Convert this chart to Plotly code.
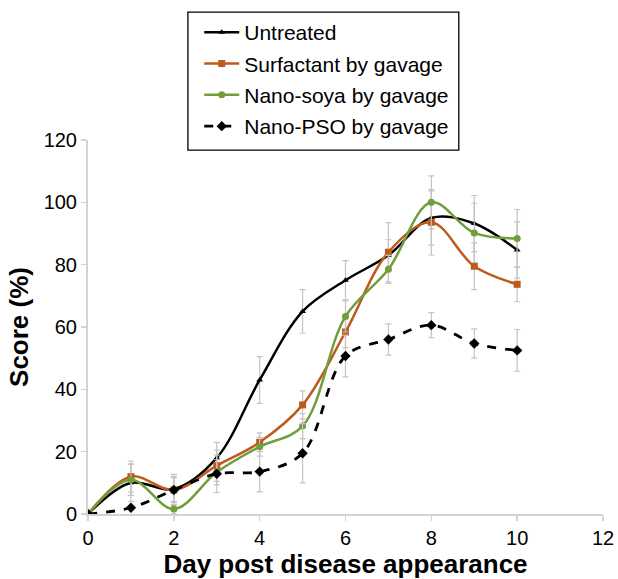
import plotly.graph_objects as go

days = [0, 1, 2, 3, 4, 5, 6, 7, 8, 9, 10]

untreated = [0, 10, 8, 18, 43, 65, 75, 83, 95, 93.2, 84.7]
untreated_err = [0, 6, 4, 5, 7.5, 7, 6.3, 5, 8.7, 9, 9]

surfactant = [0, 12, 7.7, 15.5, 23, 35, 58.4, 84, 93.6, 79.5, 73.7]
surfactant_err = [0, 5, 5, 5, 3, 4.5, 5, 9.5, 10.5, 7.5, 5.6]

nano_soya = [0, 11, 1.6, 13.4, 21.6, 28.2, 63.4, 78.5, 100, 90.2, 88.4]
nano_soya_err = [0, 5, 1.5, 4, 3, 4, 5, 4.5, 8.5, 9.5, 9.3]

nano_pso = [0, 2, 7.7, 12.9, 13.6, 19.5, 50.7, 56, 60.6, 54.7, 52.5]
nano_pso_err = [0, 0, 4, 6, 6.5, 9.5, 6.7, 5, 4, 4.7, 6.7]

names = ["Untreated", "Surfactant by gavage", "Nano-soya by gavage", "Nano-PSO by gavage"]
x_ticks = [0, 2, 4, 6, 8, 10, 12]
y_ticks = [0, 20, 40, 60, 80, 100, 120]

FONT = "Arial, Liberation Sans, sans-serif"
ERR_COLOR = "#c4c4c4"

def err(arr):
    return dict(type="data", array=arr, visible=True, color=ERR_COLOR, thickness=1.2, width=3)

fig = go.Figure()
fig.add_trace(go.Scatter(
    x=days, y=untreated, name=names[0], mode="lines+markers", legendgroup="a",
    line=dict(color="black", width=2.5, shape="spline", smoothing=1),
    marker=dict(symbol="triangle-up", size=6, color="black"),
    error_y=err(untreated_err)))
fig.add_trace(go.Scatter(
    x=days, y=surfactant, name=names[1], mode="lines+markers", legendgroup="b",
    line=dict(color="#bd5a1c", width=2.5, shape="spline", smoothing=1),
    marker=dict(symbol="square", size=7, color="#bd5a1c"),
    error_y=err(surfactant_err)))
fig.add_trace(go.Scatter(
    x=days, y=nano_soya, name=names[2], mode="lines+markers", legendgroup="c",
    line=dict(color="#6f9e3b", width=2.5, shape="spline", smoothing=1),
    marker=dict(symbol="circle", size=7, color="#6f9e3b"),
    error_y=err(nano_soya_err)))
fig.add_trace(go.Scatter(
    x=days, y=nano_pso, name=names[3], mode="lines+markers", legendgroup="d",
    line=dict(color="black", width=2.8, shape="spline", smoothing=1, dash="dash"),
    marker=dict(symbol="diamond", size=8, color="black"),
    error_y=err(nano_pso_err)))

fig.update_layout(
    width=618, height=579,
    margin=dict(l=88, r=15, t=140, b=65, autoexpand=False),
    paper_bgcolor="white", plot_bgcolor="white",
    font=dict(family=FONT, size=20, color="black"),
    showlegend=True,
    hovermode=False,
    legend=dict(
        x=0.216, y=1.342, xanchor="left", yanchor="top",
        borderwidth=0,
        font=dict(family=FONT, size=21, color="black"),
        itemwidth=35, tracegroupgap=1,
        bgcolor="rgba(255,255,255,0)",
    ),
    shapes=[dict(
        type="rect", xref="paper", yref="paper",
        x0=0.194, x1=0.72, y0=0.973, y1=1.342,
        line=dict(color="black", width=1.3), fillcolor="rgba(0,0,0,0)", layer="above",
    )],
    xaxis=dict(
        range=[0, 12], tickvals=x_ticks,
        showgrid=False, zeroline=False, automargin=False,
        showline=True, linecolor="#d3d3d3", linewidth=2,
        ticks="outside", tickcolor="#d3d3d3", ticklen=5, tickwidth=1.5,
        tickfont=dict(size=20),
        title=dict(text="<b>Day post disease appearance</b>", font=dict(size=26), standoff=4),
    ),
    yaxis=dict(
        range=[0, 120], tickvals=y_ticks,
        showgrid=False, zeroline=False, automargin=False,
        showline=True, linecolor="#d3d3d3", linewidth=2,
        ticks="outside", tickcolor="#d3d3d3", ticklen=5, tickwidth=1.5,
        tickfont=dict(size=20),
        title=dict(text="<b>Score (%)</b>", font=dict(size=26), standoff=8),
    ),
)

fig.write_html(
    "out.html",
    config={"displayModeBar": False, "staticPlot": True},
    post_script="document.body.style.margin='0';document.body.style.overflow='hidden';",
)
